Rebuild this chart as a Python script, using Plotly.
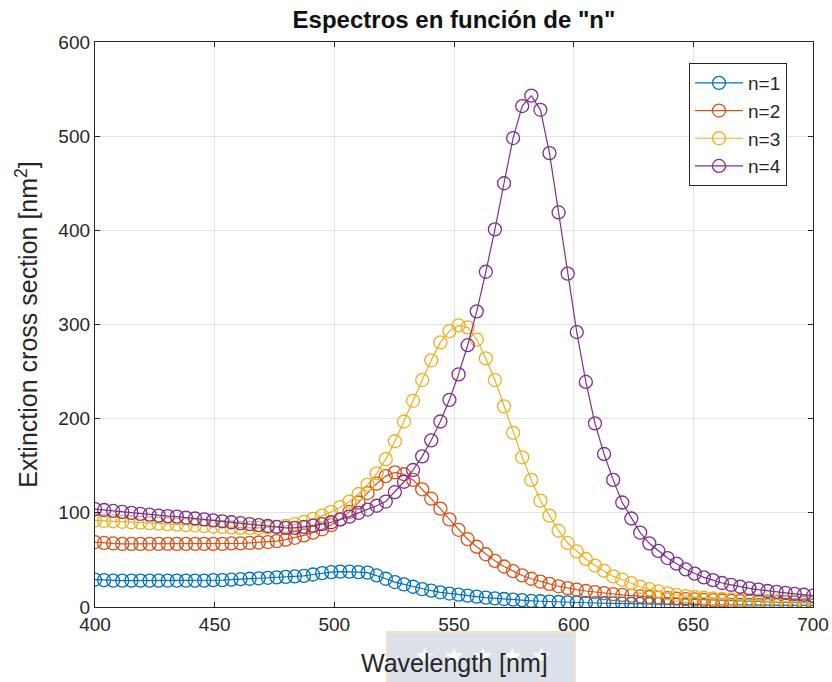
import plotly.graph_objects as go

# Wavelength grid [nm]
wavelength = [
    400.0, 403.8, 407.6, 411.4, 415.2, 419.0, 422.8, 426.6, 430.4, 434.2,
    438.0, 441.8, 445.6, 449.4, 453.2, 457.0, 460.8, 464.6, 468.4, 472.2,
    475.9, 479.7, 483.5, 487.3, 491.1, 494.9, 498.7, 502.5, 506.3, 510.1,
    513.9, 517.7, 521.5, 525.3, 529.1, 532.9, 536.7, 540.5, 544.3, 548.1,
    551.9, 555.7, 559.5, 563.3, 567.1, 570.9, 574.7, 578.5, 582.3, 586.1,
    589.9, 593.7, 597.5, 601.3, 605.1, 608.9, 612.7, 616.5, 620.3, 624.1,
    627.8, 631.6, 635.4, 639.2, 643.0, 646.8, 650.6, 654.4, 658.2, 662.0,
    665.8, 669.6, 673.4, 677.2, 681.0, 684.8, 688.6, 692.4, 696.2, 700.0,
]

# Extinction cross section [nm^2] for each n
ext_n1 = [
    29, 28.5, 28, 28, 28, 28, 28, 28, 28, 28,
    28, 28, 28, 28.5, 28.5, 29, 29.5, 30, 30.5, 31,
    31.5, 32, 32.5, 33, 34.5, 36, 37, 37.5, 37.5, 37,
    36.5, 33.5, 30, 26.5, 24, 21.5, 19, 17.3, 15.6, 14.3,
    13.2, 12, 11, 10, 9.2, 8.5, 7.8, 7.2, 6.6, 6.1,
    5.7, 5.3, 5.0, 4.7, 4.4, 4.2, 4.0, 3.8, 3.6, 3.4,
    3.3, 3.2, 3.0, 2.9, 2.8, 2.7, 2.6, 2.5, 2.4, 2.3,
    2.2, 2.2, 2.1, 2.0, 2.0, 1.9, 1.9, 1.8, 1.8, 1.7,
]
ext_n2 = [
    69, 68, 67.5, 67, 67, 67, 67, 67, 67, 67,
    67, 67, 67, 67, 67, 67.5, 67.5, 68, 68.5, 69,
    70, 71.5, 73.5, 76, 79, 82.5, 87, 93, 101, 111,
    121, 131, 139, 143, 141, 135, 125, 115, 104.5, 93,
    82, 72, 64, 56, 49, 43, 38, 33.5, 30, 27,
    24.5, 22, 20, 18.5, 17, 15.8, 14.7, 13.7, 12.8, 12,
    11.3, 10.6, 10, 9.4, 8.9, 8.4, 8, 7.6, 7.2, 6.9,
    6.6, 6.3, 6, 5.7, 5.5, 5.2, 5, 4.8, 4.6, 4.4,
]
ext_n3 = [
    92, 91.5, 91, 90.5, 90, 89.5, 89, 88.5, 88, 87.5,
    87, 86.5, 86, 85.5, 85, 84.5, 84, 84, 84, 84.5,
    85, 86, 88, 90.5, 93.5, 97, 101, 106, 112, 120,
    130, 142, 157, 176, 197, 219, 241, 262, 281, 293,
    299, 297, 284, 264, 241, 213, 185, 159, 135, 113,
    97, 81, 68, 59, 51, 44, 38.5, 32.5, 29, 25.4,
    21.5, 19, 16.5, 14.5, 12.8, 11.6, 10.6, 9.8, 9.1, 8.5,
    8.0, 7.5, 7.1, 6.7, 6.3, 6.0, 5.7, 5.4, 5.1, 4.9,
]
ext_n4 = [
    104, 103, 102, 101, 100, 99, 98, 97, 96.5, 96,
    95, 94, 93, 92, 91, 90, 89, 88, 87, 86,
    85, 84, 84, 85, 86.5, 88, 90, 93, 96, 100,
    103.5, 107.5, 112, 122, 133, 145.5, 160, 177, 197, 220,
    247, 278, 314, 356, 401, 450, 498, 532, 543, 528,
    482, 419, 354, 292, 239, 195, 162.5, 135, 111, 94,
    79, 67.6, 59.5, 52, 46, 40, 35.5, 31.5, 28.5, 25.5,
    23.5, 21.5, 19.8, 18.4, 17, 16, 15, 14, 13, 12,
]

series_names = ["n=1", "n=2", "n=3", "n=4"]
series_values = [ext_n1, ext_n2, ext_n3, ext_n4]
series_colors = ["#0072BD", "#D95319", "#EDB120", "#7E2F8E"]

x_ticks = [400, 450, 500, 550, 600, 650, 700]
y_ticks = [0, 100, 200, 300, 400, 500, 600]

FONT = "Liberation Sans, Arial, Helvetica, sans-serif"
AXIS_COLOR = "#262626"
TEXT_COLOR = "#262626"

fig = go.Figure()
for name, vals, col in zip(series_names, series_values, series_colors):
    fig.add_trace(go.Scatter(
        x=wavelength, y=vals, name=name, mode="lines+markers",
        line=dict(color=col, width=1.2),
        marker=dict(symbol="circle-open", size=13, color=col,
                    line=dict(color=col, width=1.3)),
    ))

axis_common = dict(
    showline=True, linecolor=AXIS_COLOR, linewidth=1.3, mirror="ticks",
    ticks="inside", ticklen=5, tickwidth=1.3, tickcolor=AXIS_COLOR,
    showgrid=True, gridcolor="#e3e3e3", gridwidth=1, zeroline=False,
    automargin=False,
    tickfont=dict(family=FONT, size=19, color=TEXT_COLOR),
)

fig.update_layout(
    width=832, height=682, autosize=False,
    margin=dict(l=95, r=19, t=42, b=75, pad=0),
    paper_bgcolor="white", plot_bgcolor="white",
    title=dict(text="<b>Espectros en función de \"n\"</b>",
               x=454 / 832, xanchor="center",
               y=1 - 20 / 682, yanchor="middle",
               font=dict(family=FONT, size=24, color="#111111")),
    xaxis=dict(range=[400, 700], tickvals=x_ticks, **axis_common),
    yaxis=dict(range=[0, 600], tickvals=y_ticks,
               title=dict(text="Extinction cross section [nm<sup>2</sup>]", standoff=13,
                          font=dict(family=FONT, size=25, color=TEXT_COLOR)),
               **axis_common),
    legend=dict(x=(689 - 95) / 718, y=(607 - 63) / 565, xanchor="left", yanchor="top",
                bgcolor="white", bordercolor="#262626", borderwidth=1,
                font=dict(family=FONT, size=19, color=TEXT_COLOR),
                itemwidth=48, tracegroupgap=0),
    showlegend=True,
)

# Stamp box with stars, placed underneath the x-axis title
fig.add_shape(type="rect", xref="paper", yref="paper",
              x0=(387 - 95) / 718, x1=(575 - 95) / 718,
              y0=(607 - 690) / 565, y1=(607 - 632) / 565,
              fillcolor="#dbe0e9", line=dict(color="#f3e2c6", width=2),
              layer="below")
fig.add_annotation(xref="paper", yref="paper",
                   x=(483 - 95) / 718, y=(607 - 656) / 565, yanchor="middle",
                   text="★ ★ ★ ★ ★", showarrow=False,
                   font=dict(family="DejaVu Sans", size=24, color="rgba(255,255,255,0.85)"))

# x-axis title, drawn after the stamp so it sits on top
fig.add_annotation(xref="paper", yref="paper",
                   x=0.5, y=(607 - 663) / 565, yanchor="middle", xanchor="center",
                   text="Wavelength [nm]", showarrow=False,
                   font=dict(family=FONT, size=25, color=TEXT_COLOR))

fig.write_html("out.html")
